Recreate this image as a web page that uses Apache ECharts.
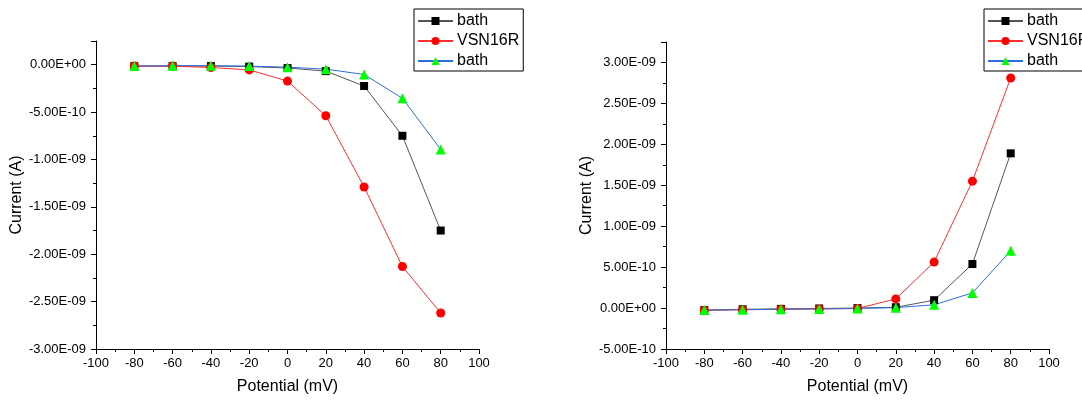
<!DOCTYPE html>
<html><head><meta charset="utf-8">
<script src="https://cdn.jsdelivr.net/npm/echarts@6/dist/echarts.min.js"></script>
<style>html,body{margin:0;padding:0;background:#fff}#c{width:1082px;height:400px}</style>
</head><body><div id="c"></div>
<script>
const potentials = [-80, -60, -40, -20, 0, 20, 40, 60, 80];
const seriesNames = ['bath', 'VSN16R', 'bath '];
// Left panel (A)
const leftBath1  = [-1.5e-11, -1.5e-11, -1.5e-11, -2.0e-11, -3.5e-11, -6.8e-11, -2.25e-10, -7.5e-10, -1.75e-9];
const leftVSN    = [-1.5e-11, -1.5e-11, -3.0e-11, -5.5e-11, -1.73e-10, -5.39e-10, -1.29e-9, -2.13e-9, -2.62e-9];
const leftBath2  = [-1.5e-11, -1.0e-11, -1.0e-11, -1.5e-11, -2.6e-11, -4.7e-11, -1.03e-10, -3.54e-10, -8.94e-10];
// Right panel (A)
const rightBath1 = [-2.5e-11, -1.5e-11, -1.0e-11, -5e-12, 0, 1.0e-11, 9.6e-11, 5.38e-10, 1.89e-9];
const rightVSN   = [-2.8e-11, -2.0e-11, -1.5e-11, -1.0e-11, -5e-12, 1.12e-10, 5.62e-10, 1.55e-9, 2.81e-9];
const rightBath2 = [-2.5e-11, -2.0e-11, -1.5e-11, -1.0e-11, -5e-12, 5e-12, 4.0e-11, 1.85e-10, 7.0e-10];

const FONT = "'Liberation Sans', Arial, sans-serif";
function sci(v){
  if (Math.abs(v) < 1e-20) v = 0;
  let s = v.toExponential(2).toUpperCase();
  return s.replace(/E([+-])(\d+)$/, (m, sg, d) => 'E' + sg + (d.length < 2 ? '0' + d : d));
}
const styles = [
  {color:'#000', line:'#555', symbol:'rect', size:8},
  {color:'#ff0000', line:'#ff3030', symbol:'circle', size:9},
  {color:'#00ff00', line:'#2a6fdb', symbol:'triangle', size:10}
];
function mk(name, data, st, idx){
  return {
    name: name, type:'line', xAxisIndex: idx, yAxisIndex: idx,
    data: potentials.map((p,i)=>[p, data[i]]),
    symbol: st.symbol, symbolSize: st.size,
    itemStyle:{color: st.color},
    lineStyle:{color: st.line, width:1},
    emphasis:{disabled:true}, animation:false
  };
}
const grids = [
  {left:96, top:41, width:383, height:310},
  {left:666, top:42, width:383, height:309}
];
const xAxisBase = (idx) => ({
  type:'value', gridIndex: idx, min:-100, max:100, interval:20,
  name:'Potential (mV)', nameLocation:'middle', nameGap:30,
  nameTextStyle:{fontFamily:FONT, fontSize:16, color:'#000'},
  axisLine:{lineStyle:{color:'#000', width:1}, onZero:false},
  axisTick:{show:true, length:5, lineStyle:{color:'#000'}},
  minorTick:{show:true, splitNumber:2, length:3, lineStyle:{color:'#000'}},
  splitLine:{show:false},
  axisLabel:{fontFamily:FONT, fontSize:13, color:'#000', margin:8}
});
const yAxisBase = (idx, min, max) => ({
  type:'value', gridIndex: idx, min:min, max:max, interval:5e-10,
  name:'Current (A)', nameLocation:'middle', nameGap:68,
  nameTextStyle:{fontFamily:FONT, fontSize:16, color:'#000'},
  axisLine:{show:true, lineStyle:{color:'#000', width:1}, onZero:false},
  axisTick:{show:true, length:5, lineStyle:{color:'#000'}},
  minorTick:{show:true, splitNumber:2, length:3, lineStyle:{color:'#000'}},
  splitLine:{show:false},
  axisLabel:{fontFamily:FONT, fontSize:13, color:'#000', margin:10, showMaxLabel:false, formatter:sci}
});
const legendBase = (left) => ({
  orient:'vertical', left:left, top:9,
  data: seriesNames,
  formatter: n => n.trim(),
  itemWidth:35, itemHeight:10, itemGap:4,
  padding:[4,4,2,3],
  borderColor:'#000', borderWidth:1, backgroundColor:'#fff',
  textStyle:{fontFamily:FONT, fontSize:16, color:'#000', padding:[0,0,0,-1]},
  selectedMode:false
});
const chart = echarts.init(document.getElementById('c'), null, {renderer:'canvas'});
chart.setOption({
  animation:false,
  backgroundColor:'#fff',
  grid: grids,
  xAxis:[xAxisBase(0), xAxisBase(1)],
  yAxis:[yAxisBase(0, -3e-9, 2.5e-10), yAxisBase(1, -5e-10, 3.25e-9)],
  legend:[legendBase(414), legendBase(984)],
  series:[
    mk(seriesNames[0], leftBath1, styles[0], 0),
    mk(seriesNames[1], leftVSN, styles[1], 0),
    mk(seriesNames[2], leftBath2, styles[2], 0),
    mk(seriesNames[0], rightBath1, styles[0], 1),
    mk(seriesNames[1], rightVSN, styles[1], 1),
    mk(seriesNames[2], rightBath2, styles[2], 1)
  ]
});
</script></body></html>
